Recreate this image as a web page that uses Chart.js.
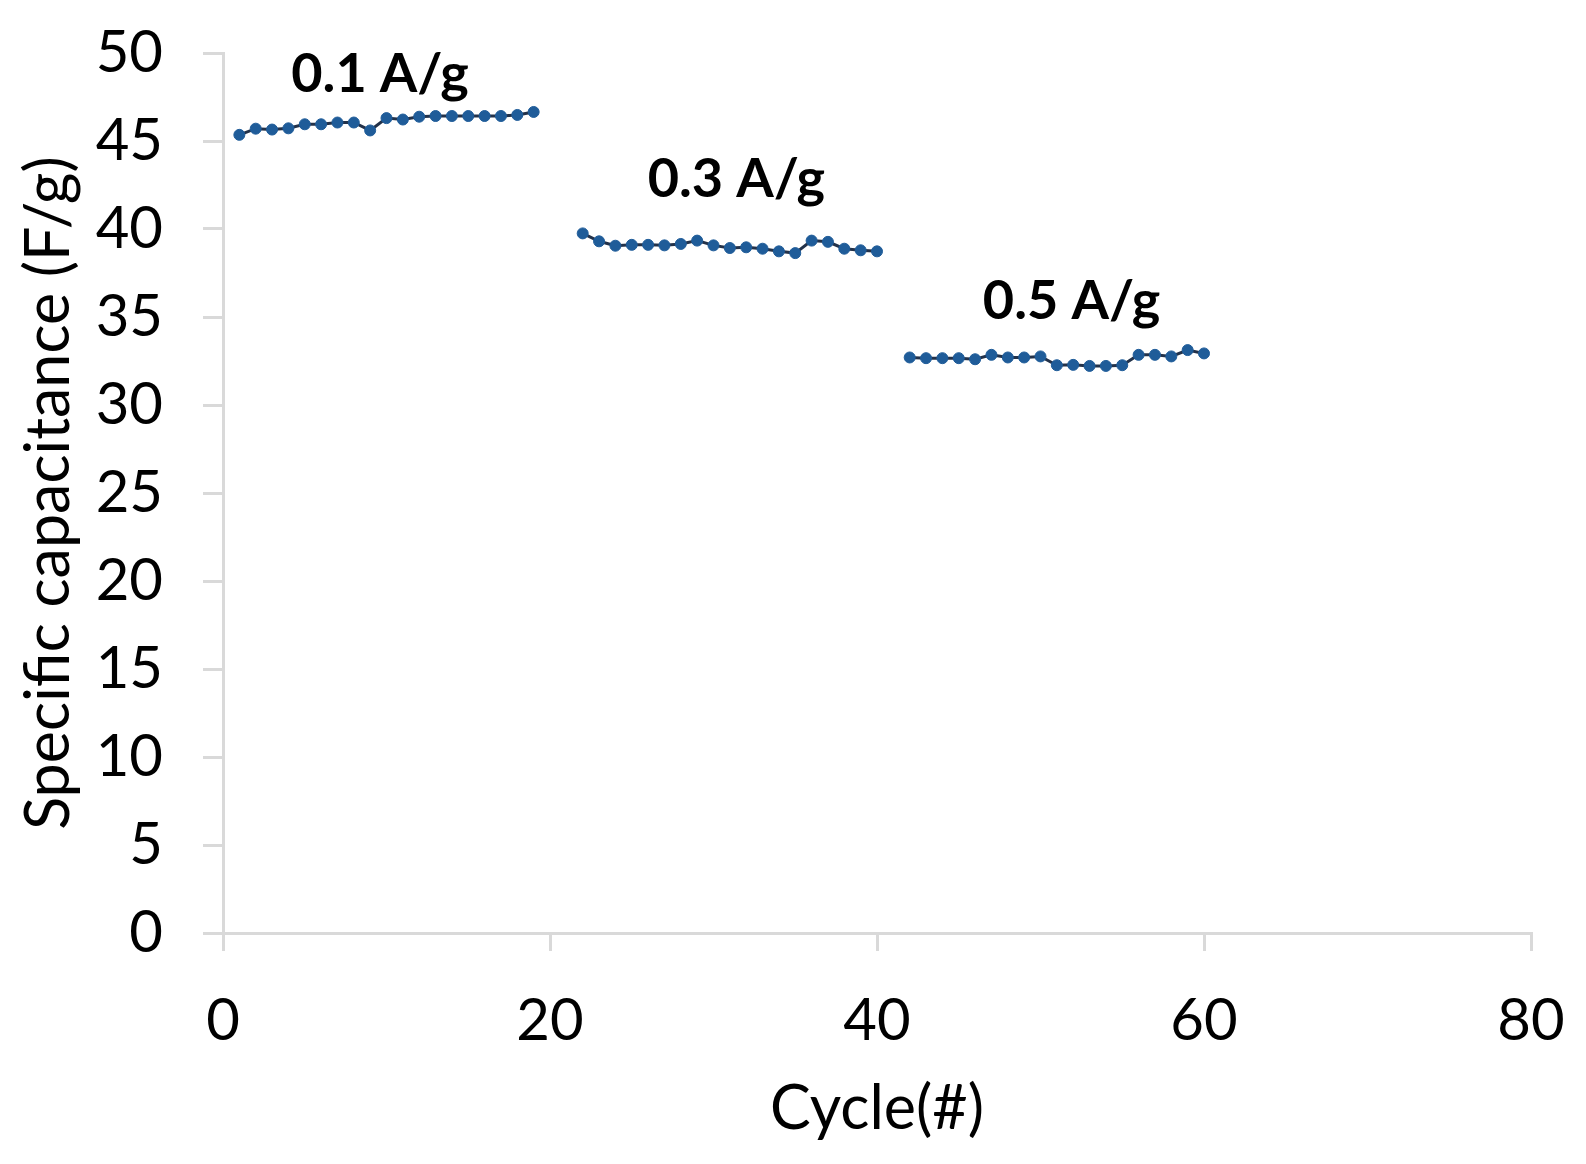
<!DOCTYPE html>
<html>
<head>
<meta charset="utf-8">
<script src="https://cdn.jsdelivr.net/npm/chart.js@4"></script>
<style>
  html, body { margin: 0; padding: 0; background: #fff; }
  #wrap { width: 1586px; height: 1164px; }
</style>
</head>
<body>
<div id="wrap"><canvas id="canvas"></canvas></div>
<script>
// cycles and specific capacitance (F/g) for each current density
const cycles01 = [1, 2, 3, 4, 5, 6, 7, 8, 9, 10, 11, 12, 13, 14, 15, 16, 17, 18, 19];
const cap01 = [45.35, 45.7, 45.65, 45.72, 45.95, 45.95, 46.05, 46.05, 45.6, 46.3, 46.22, 46.38, 46.42, 46.42, 46.42, 46.42, 46.42, 46.48, 46.65];

const cycles03 = [22, 23, 24, 25, 26, 27, 28, 29, 30, 31, 32, 33, 34, 35, 36, 37, 38, 39, 40];
const cap03 = [39.75, 39.3, 39.05, 39.1, 39.1, 39.07, 39.15, 39.34, 39.07, 38.92, 38.96, 38.88, 38.73, 38.63, 39.34, 39.27, 38.88, 38.79, 38.73];

const cycles05 = [42, 43, 44, 45, 46, 47, 48, 49, 50, 51, 52, 53, 54, 55, 56, 57, 58, 59, 60];
const cap05 = [32.7, 32.66, 32.66, 32.66, 32.6, 32.85, 32.7, 32.7, 32.76, 32.26, 32.28, 32.22, 32.22, 32.26, 32.85, 32.85, 32.76, 33.12, 32.93];

// annotation texts and where they sit (data coordinates)
const noteTexts = ["0.1 A/g", "0.3 A/g", "0.5 A/g"];
const noteX = [9.6, 31.4, 51.9];
const noteY = [48.8, 42.8, 35.9];

const xTicks = [0, 20, 40, 60, 80];

function toPoints(xs, ys) {
    return xs.map((x, i) => ({ x: x, y: ys[i] }));
}

const lineColor = '#23324a';
const markerColor = '#1f5c99';
const axisColor = '#d9d9d9';
const fontFamily = 'Lato, "Open Sans", sans-serif';

function series(xs, ys) {
    return {
        data: toPoints(xs, ys),
        showLine: true,
        borderColor: lineColor,
        borderWidth: 3,
        pointRadius: 5.5,
        pointBackgroundColor: markerColor,
        pointBorderColor: markerColor,
        pointBorderWidth: 1,
        tension: 0
    };
}

// draws the current density labels through the chart scales
const notesPlugin = {
    id: 'notes',
    afterDatasetsDraw(chart) {
        const ctx = chart.ctx;
        const xs = chart.scales.x;
        const ys = chart.scales.y;
        ctx.save();
        ctx.font = 'bold 54px ' + fontFamily;
        ctx.fillStyle = '#000';
        ctx.textAlign = 'center';
        ctx.textBaseline = 'middle';
        for (let i = 0; i < noteTexts.length; i++) {
            ctx.fillText(noteTexts[i], xs.getPixelForValue(noteX[i]), ys.getPixelForValue(noteY[i]));
        }
        ctx.restore();
    }
};

const config = {
    type: 'scatter',
    data: {
        datasets: [
            series(cycles01, cap01),
            series(cycles03, cap03),
            series(cycles05, cap05)
        ]
    },
    options: {
        responsive: true,
        maintainAspectRatio: false,
        animation: false,
        layout: { padding: { top: 53, right: 55, bottom: 18, left: 13 } },
        plugins: {
            legend: { display: false },
            tooltip: { enabled: false }
        },
        scales: {
            x: {
                type: 'linear',
                min: 0,
                max: 80,
                afterBuildTicks(axis) {
                    axis.ticks = xTicks.map(v => ({ value: v }));
                },
                afterFit(axis) {
                    axis.height = 213;
                    axis.paddingLeft = 0;
                    axis.paddingRight = 0;
                },
                grid: {
                    display: true,
                    drawOnChartArea: false,
                    drawTicks: true,
                    tickLength: 18,
                    color: axisColor,
                    lineWidth: 3
                },
                border: { display: true, color: axisColor, width: 3 },
                ticks: {
                    color: '#000',
                    padding: 35,
                    maxRotation: 0,
                    font: { size: 58, family: fontFamily }
                },
                title: {
                    display: true,
                    text: 'Cycle(#)',
                    color: '#000',
                    padding: 0,
                    font: { size: 61, family: fontFamily }
                }
            },
            y: {
                min: 0,
                max: 50,
                afterFit(axis) {
                    axis.width = 210;
                    axis.paddingTop = 0;
                    axis.paddingBottom = 0;
                },
                ticks: {
                    stepSize: 5,
                    color: '#000',
                    padding: 40,
                    font: { size: 58, family: fontFamily }
                },
                grid: {
                    display: true,
                    drawOnChartArea: false,
                    drawTicks: true,
                    tickLength: 20,
                    color: axisColor,
                    lineWidth: 3
                },
                border: { display: true, color: axisColor, width: 3 },
                title: {
                    display: true,
                    text: 'Specific capacitance (F/g)',
                    color: '#000',
                    padding: 0,
                    font: { size: 61, family: fontFamily }
                }
            }
        }
    },
    plugins: [notesPlugin]
};

new Chart(document.getElementById('canvas'), config);
</script>
</body>
</html>
